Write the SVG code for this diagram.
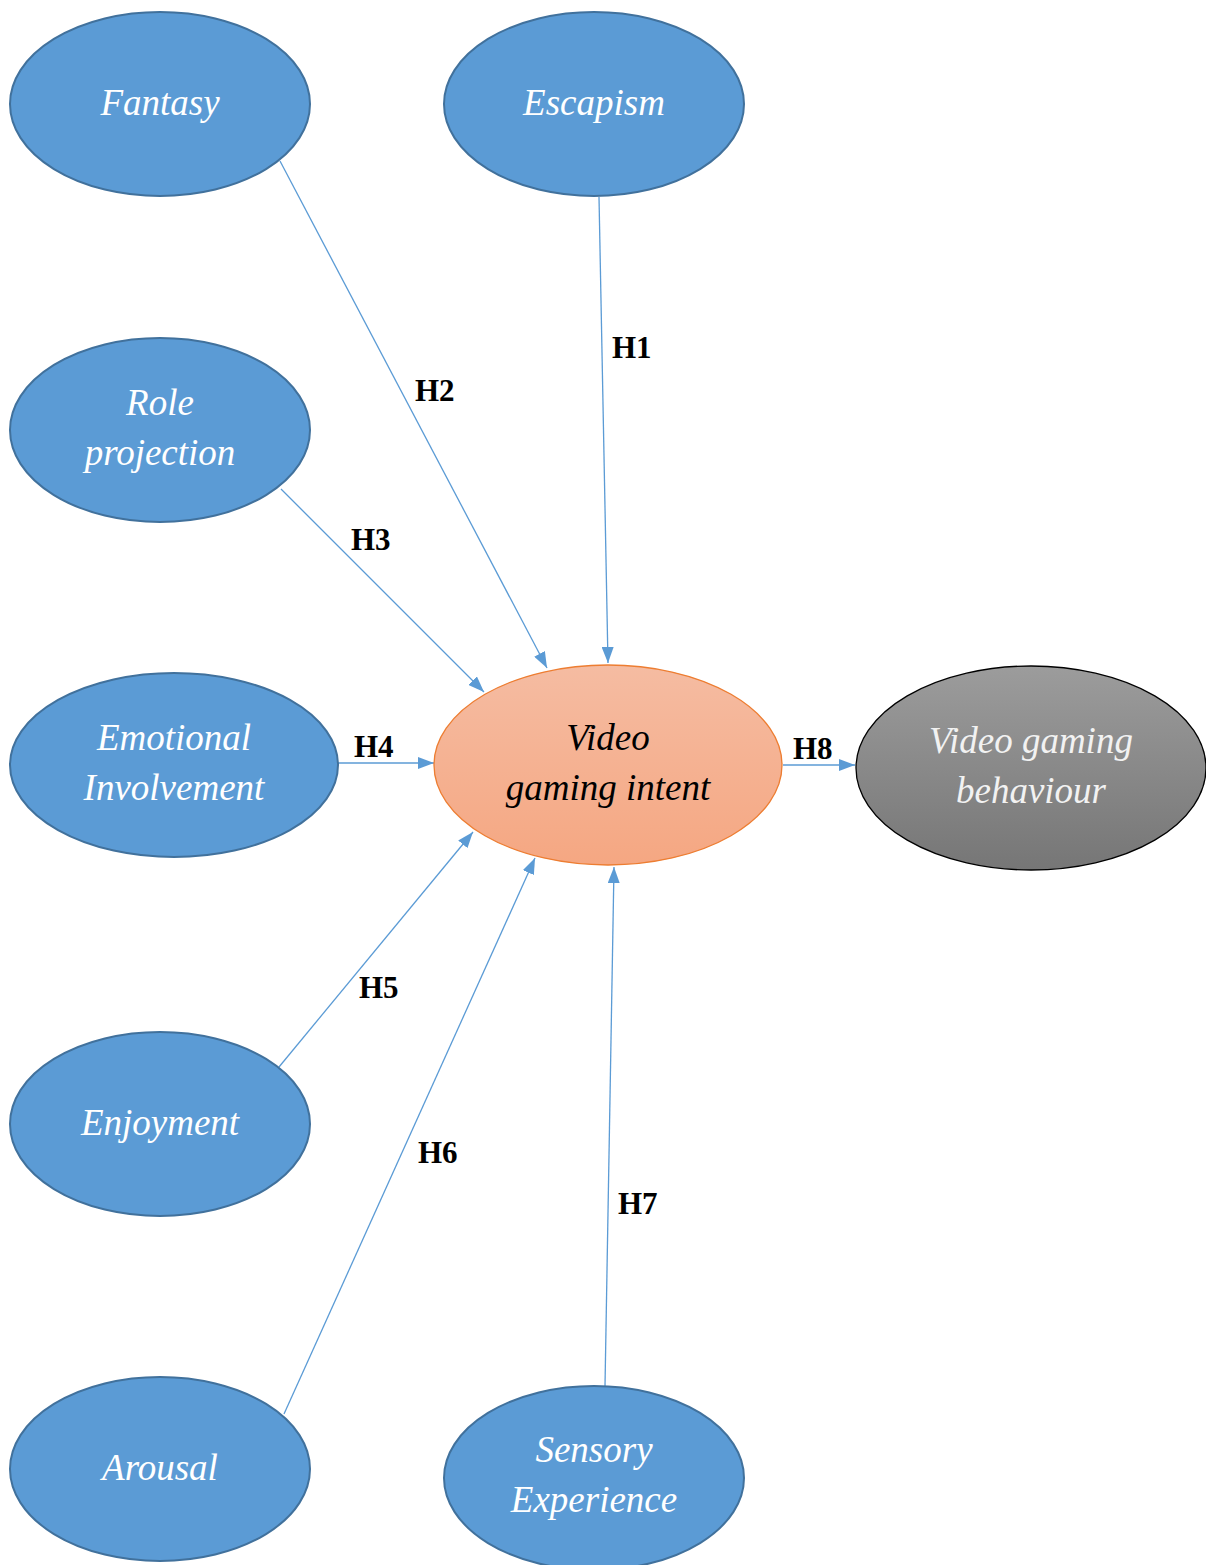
<svg xmlns="http://www.w3.org/2000/svg" width="1206" height="1565" viewBox="0 0 1206 1565">
<defs>
<linearGradient id="gOrange" x1="0" y1="0" x2="0" y2="1"><stop offset="0" stop-color="#F5BCA2"/><stop offset="1" stop-color="#F5A782"/></linearGradient>
<linearGradient id="gGray" x1="0" y1="0" x2="0" y2="1"><stop offset="0" stop-color="#9C9C9C"/><stop offset="1" stop-color="#767676"/></linearGradient>
<marker id="arr" viewBox="0 0 16 12" refX="16" refY="6" markerWidth="16" markerHeight="12" markerUnits="userSpaceOnUse" orient="auto"><path d="M0,0 L16,6 L0,12 Z" fill="#5B9BD5"/></marker>
</defs>
<style>
.blue{fill:#5B9BD5;stroke:#41719C;stroke-width:2}
.t{font-family:"Liberation Serif","Times New Roman",serif;font-style:italic;font-size:37px;text-anchor:middle}
.w{fill:#ffffff}
.k{fill:#000000}
.c{stroke:#5B9BD5;stroke-width:1.3;fill:none;marker-end:url(#arr)}
.h{font-family:"Liberation Serif","Times New Roman",serif;font-weight:bold;font-size:31px;fill:#000}
</style>
<rect width="1206" height="1565" fill="#ffffff"/>
<g id="connectors">
<line class="c" x1="599" y1="197" x2="608" y2="663"/>
<line class="c" x1="280" y1="161" x2="547" y2="668"/>
<line class="c" x1="281" y1="489" x2="484" y2="692"/>
<line class="c" x1="338" y1="763" x2="434" y2="763"/>
<line class="c" x1="279" y1="1067" x2="473" y2="832"/>
<line class="c" x1="284" y1="1414" x2="535" y2="858"/>
<line class="c" x1="605" y1="1386" x2="614" y2="867"/>
<line class="c" x1="783" y1="765" x2="855" y2="765"/>
<text class="h" x="612" y="358">H1</text>
<text class="h" x="415" y="401">H2</text>
<text class="h" x="351" y="550">H3</text>
<text class="h" x="354" y="757">H4</text>
<text class="h" x="359" y="998">H5</text>
<text class="h" x="418" y="1163">H6</text>
<text class="h" x="618" y="1214">H7</text>
<text class="h" x="793" y="759">H8</text>
</g>
<g id="fantasy"><ellipse class="blue" cx="160" cy="104" rx="150" ry="92"/><text class="t w" x="160" y="115">Fantasy</text></g>
<g id="escapism"><ellipse class="blue" cx="594" cy="104" rx="150" ry="92"/><text class="t w" x="594" y="115">Escapism</text></g>
<g id="role"><ellipse class="blue" cx="160" cy="430" rx="150" ry="92"/><text class="t w" x="160" y="415">Role</text><text class="t w" x="160" y="465">projection</text></g>
<g id="emotional"><ellipse class="blue" cx="174" cy="765" rx="164" ry="92"/><text class="t w" x="174" y="750">Emotional</text><text class="t w" x="174" y="800">Involvement</text></g>
<g id="enjoyment"><ellipse class="blue" cx="160" cy="1124" rx="150" ry="92"/><text class="t w" x="160" y="1135">Enjoyment</text></g>
<g id="arousal"><ellipse class="blue" cx="160" cy="1469" rx="150" ry="92"/><text class="t w" x="160" y="1480">Arousal</text></g>
<g id="sensory"><ellipse class="blue" cx="594" cy="1478" rx="150" ry="92"/><text class="t w" x="594" y="1462">Sensory</text><text class="t w" x="594" y="1512">Experience</text></g>
<g id="intent"><ellipse cx="608" cy="765" rx="174" ry="100" fill="url(#gOrange)" stroke="#ED7D31" stroke-width="1.3"/><text class="t k" x="608" y="750">Video</text><text class="t k" x="608" y="800">gaming intent</text></g>
<g id="behaviour"><ellipse cx="1031" cy="768" rx="175" ry="102" fill="url(#gGray)" stroke="#000" stroke-width="1.3"/><text class="t" x="1031" y="753" fill="#F2F2F2">Video gaming</text><text class="t" x="1031" y="803" fill="#F2F2F2">behaviour</text></g>
</svg>
